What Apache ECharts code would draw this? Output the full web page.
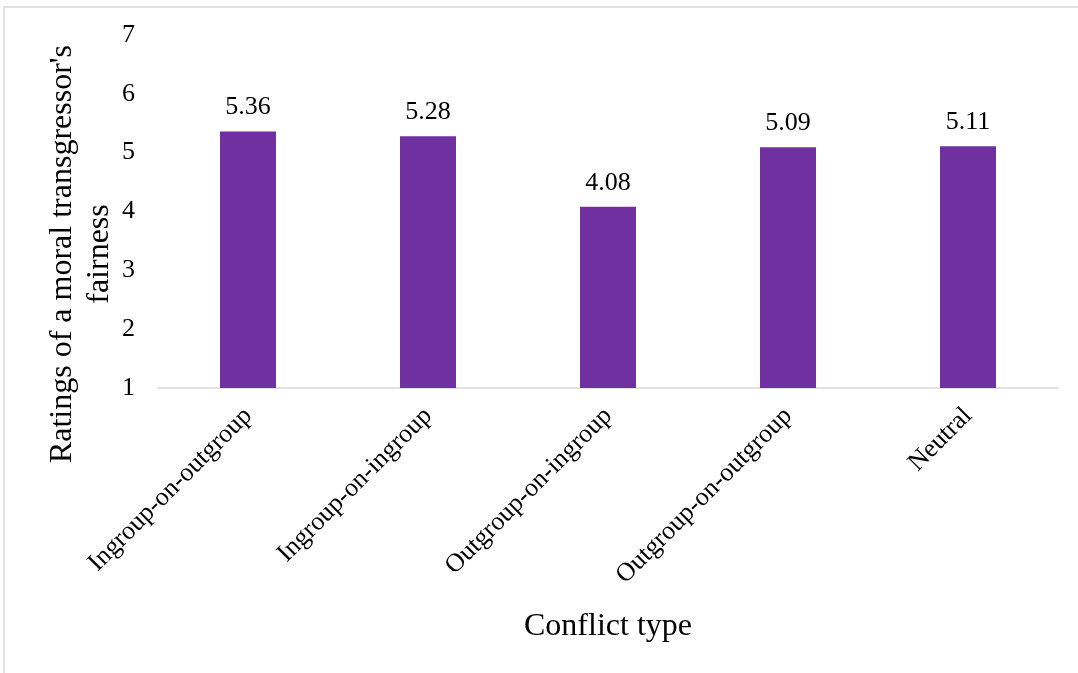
<!DOCTYPE html>
<html>
<head>
<meta charset="utf-8">
<script src="https://cdn.jsdelivr.net/npm/echarts@6/dist/echarts.min.js"></script>
<style>
html,body{margin:0;padding:0;background:#fff;}
#chart{width:1078px;height:673px;}
</style>
</head>
<body>
<div id="chart"></div>
<script>
const categories = ['Ingroup-on-outgroup','Ingroup-on-ingroup','Outgroup-on-ingroup','Outgroup-on-outgroup','Neutral'];
const values = [5.36, 5.28, 4.08, 5.09, 5.11];
const yTicks = [1, 2, 3, 4, 5, 6, 7];
const xTitle = 'Conflict type';
const yTitle = "Ratings of a moral transgressor's\nfairness";

const font = '"Liberation Serif", "Times New Roman", serif';
const chart = echarts.init(document.getElementById('chart'));
chart.setOption({
  animation: false,
  backgroundColor: '#fff',
  grid: {left: 158, right: 20, top: 35, bottom: 285, containLabel: false},
  xAxis: {
    type: 'category',
    data: categories,
    axisLine: {show: true, lineStyle: {color: '#d9d9d9', width: 1.5}},
    axisTick: {show: false},
    axisLabel: {rotate: 45, interval: 0, margin: 24, color: '#000', fontFamily: font, fontSize: 26},
    name: xTitle,
    nameLocation: 'middle',
    nameGap: 223,
    nameTextStyle: {color: '#000', fontFamily: font, fontSize: 32}
  },
  yAxis: {
    type: 'value',
    min: yTicks[0],
    max: yTicks[yTicks.length - 1],
    interval: 1,
    splitLine: {show: false},
    axisLine: {show: false},
    axisTick: {show: false},
    axisLabel: {color: '#000', fontFamily: font, fontSize: 26, margin: 23}
  },
  graphic: [
    {type: 'rect', shape: {x: 4, y: 7, width: 1100, height: 700}, style: {fill: 'none', stroke: '#d9d9d9', lineWidth: 1.5}, silent: true},
    {type: 'text', x: 81, y: 254, rotation: Math.PI / 2, style: {text: yTitle, font: '32px ' + font, fill: '#000', align: 'center', verticalAlign: 'middle', lineHeight: 37}}
  ],
  series: [{
    type: 'bar',
    data: values,
    barWidth: 56,
    itemStyle: {color: '#7030a0'},
    label: {show: true, position: 'top', distance: 11, color: '#000', fontFamily: font, fontSize: 26, formatter: p => p.value.toFixed(2)}
  }]
});
</script>
</body>
</html>
